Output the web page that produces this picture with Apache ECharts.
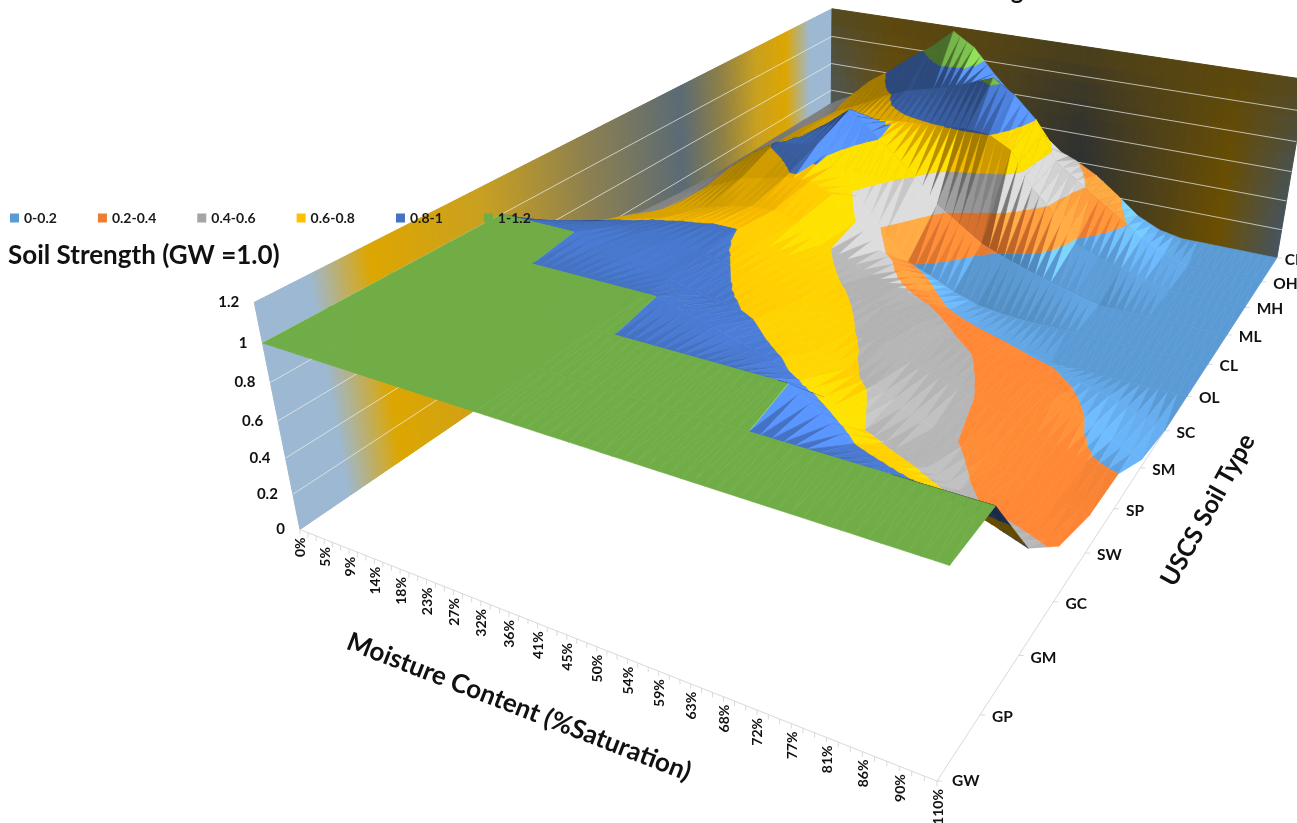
<!DOCTYPE html>
<html><head><meta charset="utf-8"><style>html,body{margin:0;padding:0;background:#fff;overflow:hidden}#c{width:1297px;height:823px}</style>
<script src="https://cdn.jsdelivr.net/npm/echarts@6/dist/echarts.min.js"></script></head><body><div id="c"></div>
<script>
// ---------- data ----------
const moistureLabels=['0%','5%','9%','14%','18%','23%','27%','32%','36%','41%','45%','50%','54%','59%','63%','68%','72%','77%','81%','86%','90%','110%'];
const soilTypes=['GW','GP','GM','GC','SW','SP','SM','SC','OL','CL','ML','MH','OH','CH'];
const strengthTicks=['0','0.2','0.4','0.6','0.8','1','1.2'];
const bandNames=['0-0.2','0.2-0.4','0.4-0.6','0.6-0.8','0.8-1','1-1.2'];
const bandColors=['#5B9BD5','#ED7D31','#A5A5A5','#FFC000','#4472C4','#70AD47'];
const GW=[1,1,1,1,1,1,1,1,1,1,1,1,1,1,1,1,1,1,1,1,1,1];
const GP=[1,1,1,1,1,1,1,1,1,1,1,1,1,1,1,1,1,1,1,1,1,1];
const GM=[1,1,1,1,1,1,1,1,1,1,1,1,1,1,1,.9,.8,.76,.71,.66,.61,.55];
const GC=[1,1,1,1,1,1,1,1,1,.96,.92,.87,.83,.77,.68,.6,.55,.5,.43,.38,.34,.3];
const SW=[1,1,1,1,.96,.93,.89,.86,.83,.81,.78,.73,.68,.62,.58,.51,.44,.39,.33,.28,.24,.21];
const SP=[.79,.84,.87,.88,.88,.86,.83,.81,.78,.74,.7,.65,.6,.56,.51,.46,.41,.36,.31,.26,.22,.2];
const SM=[.65,.69,.73,.77,.79,.8,.8,.76,.71,.66,.61,.57,.53,.49,.44,.4,.36,.32,.27,.2,.12,.05];
const SC=[.55,.6,.64,.68,.72,.75,.76,.72,.62,.56,.5,.46,.41,.37,.33,.29,.24,.2,.16,.12,.06,0];
const OL=[.52,.58,.65,.72,.75,.79,.79,.74,.6,.45,.36,.26,.18,.12,.07,.03,0,0,0,0,0,0];
const CL=[.5,.6,.72,.81,.84,.87,.68,.52,.36,.21,.15,.08,.03,.01,0,0,0,0,0,0,0,0];
const ML=[.5,.58,.66,.74,.84,.96,.84,.72,.6,.44,.34,.24,.18,.13,.08,.04,0,0,0,0,0,0];
const MH=[.5,.58,.65,.7,.74,.76,.78,.79,.8,.81,.8,.72,.5,.36,.18,.12,.08,.03,0,0,0,0];
const OH=[.5,.56,.63,.7,.78,.84,.88,.92,.97,1.03,.94,.8,.54,.44,.33,.23,.13,.05,0,0,0,0];
const CH=[.5,.58,.72,.82,.94,1.04,1.17,1.08,.92,.78,.6,.47,.41,.33,.22,.1,.03,0,0,0,0,0];
const strength=[GW,GP,GM,GC,SW,SP,SM,SC,OL,CL,ML,MH,OH,CH];

// ---------- camera ----------
const frameAnchors=[[0,0,0,297,528],[0,0,1.2,254.5,303],[0,0,1,263,344],[0,0,1,263,344],[1,0,0,935,778],[1,0,1,952,567],[1,0,1,952,567],[1,0,1,952,567],[1,1/13,1,995,507],[1,1/13,1,995,507],[1,1,0,1277,260],[1,1,1.2,1303,75],
 [0,1,0,832,168],[0,1,1.2,832,9],[0,1,1,832,36],[10/21,0,0,566,633],[16/21,0,0,755,707],[1,2/13,0,1018,655],[1,4/13,0,1085,553],[1,7/13,0,1167,432],[1,10/13,0,1228,337]];
function fitCamera(pts){
  const n=11,A=Array.from({length:n},()=>new Array(n+1).fill(0));
  const add=(r,b)=>{for(let a=0;a<n;a++){for(let c=0;c<n;c++)A[a][c]+=r[a]*r[c];A[a][n]+=r[a]*b;}};
  pts.forEach(([u,v,h,x,y])=>{x/=1000;y/=1000;
    add([u,v,h,1,0,0,0,0,-x*u,-x*v,-x*h],x);
    add([0,0,0,0,u,v,h,1,-y*u,-y*v,-y*h],y);});
  for(let c=0;c<n;c++){let p=c;for(let r=c+1;r<n;r++)if(Math.abs(A[r][c])>Math.abs(A[p][c]))p=r;
    [A[c],A[p]]=[A[p],A[c]];
    for(let r=0;r<n;r++)if(r!==c){const f=A[r][c]/A[c][c];for(let k=c;k<=n;k++)A[r][k]-=f*A[c][k];}}
  return A.map((r,i)=>r[n]/r[i]);
}
const P=fitCamera(frameAnchors);
function project(u,v,h){const w=P[8]*u+P[9]*v+P[10]*h+1;
  return [1000*(P[0]*u+P[1]*v+P[2]*h+P[3])/w,1000*(P[4]*u+P[5]*v+P[6]*h+P[7])/w];}

// ---------- surface facets split into height bands ----------
const nI=moistureLabels.length-1,nJ=soilTypes.length-1,SUB=3,BAND=0.2;
const fragments=bandNames.map(()=>[]);
const bandMaxShade=[.38,.38,.34,.18,.35,.3];
function clip(poly,lim,keepAbove){const out=[];
  for(let a=0;a<poly.length;a++){const p=poly[a],q=poly[(a+1)%poly.length];
    const pi=keepAbove?p[2]>=lim:p[2]<=lim,qi=keepAbove?q[2]>=lim:q[2]<=lim;
    if(pi)out.push(p);
    if(pi!==qi){const t=(lim-p[2])/(q[2]-p[2]);out.push([p[0]+t*(q[0]-p[0]),p[1]+t*(q[1]-p[1]),lim]);}}
  return out;}
function shadeOf(sa,sb){
  const fall=Math.max(0,-sa),l=(sa>0?-3.5*sa:2*fall+3*Math.max(0,fall-.06))-(sb>0?.9*sb:0);
  return Math.max(-0.36,l);}
const refSign=(function(){const a=project(0,0,0),b=project(1,0,0),c=project(0,1,0);return Math.sign((b[0]-a[0])*(c[1]-a[1])-(b[1]-a[1])*(c[0]-a[0]));})();
function addTri(tri,shade,rank){
  const pr=tri.map(p=>project(p[0]/nI,p[1]/nJ,p[2]));
  const s=Math.sign((pr[1][0]-pr[0][0])*(pr[2][1]-pr[0][1])-(pr[1][1]-pr[0][1])*(pr[2][0]-pr[0][0]));
  const back=s!==refSign;
  for(let k=0;k<bandNames.length;k++){
    const lo=k*BAND,hi=(k+1)*BAND;
    let poly=clip(tri,lo,true);if(poly.length<3)continue;
    poly=clip(poly,hi,false);if(poly.length<3)continue;
    if(poly.every(p=>Math.abs(p[2]-hi)<1e-9)&&k<bandNames.length-1)continue;
    fragments[k].push({poly,shade:back?-0.62:Math.min(shade,bandMaxShade[k]),rank});
  }
}
let rank=0;
for(let j=nJ-1;j>=0;j--)for(let i=0;i<nI;i++)for(let k=0;k<SUB;k++){
  const x0=i+k/SUB,x1=i+(k+1)/SUB,at=(row,t)=>row[i]+(row[i+1]-row[i])*t;
  const r0=strength[j],r1=strength[j+1];
  const a=[x0,j,at(r0,k/SUB)],b=[x1,j,at(r0,(k+1)/SUB)],c=[x1,j+1,at(r1,(k+1)/SUB)],d=[x0,j+1,at(r1,k/SUB)];
  const dx=x1-x0;
  addTri([a,b,d],shadeOf((b[2]-a[2])/dx,d[2]-a[2]),rank++);
  addTri([b,c,d],shadeOf((c[2]-d[2])/dx,c[2]-b[2]),rank++);
}
function tint(hex,l){const n=parseInt(hex.slice(1),16),f=1+l;
  const ch=[n>>16&255,n>>8&255,n&255].map(v=>Math.round(Math.min(255,v*f)));
  return 'rgb('+ch.join(',')+')';}

// ---------- walls ----------
const leftWallStops=[[0,'#9DB8D2'],[.06,'#9DB8D2'],[.13,'#DDA600'],[.28,'#C9A020'],[.45,'#8C8050'],[.63,'#5A6A75'],[.72,'#8F8045'],[.8,'#C9A020'],[.875,'#DDA600'],[.94,'#9DB8D2'],[1,'#9DB8D2']];
const backWallStops=[[0,'#4A5A66'],[.15,'#6B4E0A'],[.38,'#4B4020'],[.58,'#2C3033'],[.75,'#4F4118'],[.88,'#6B4F00'],[1,'#46545E']];
function ramp(stops,t){for(let a=1;a<stops.length;a++)if(t<=stops[a][0]){
  const [t0,c0]=stops[a-1],[t1,c1]=stops[a],f=(t-t0)/(t1-t0||1),p=parseInt(c0.slice(1),16),q=parseInt(c1.slice(1),16);
  return [16,8,0].map(s=>Math.round((p>>s&255)+((q>>s&255)-(p>>s&255))*f));}
  const q=parseInt(stops[stops.length-1][1].slice(1),16);return [q>>16&255,q>>8&255,q&255];}
const backTopTone=[88,70,16];
const wallData=[];const TOP=1.2,LEFT_STRIPS=240,BACK_STRIPS=120,BACK_LEVELS=10;
for(let s=0;s<LEFT_STRIPS;s++)wallData.push([0,s,0]);
for(let s=0;s<BACK_STRIPS;s++)for(let r=0;r<BACK_LEVELS;r++)wallData.push([1,s,r]);
function lineEl(api,a,b,color,width,z2){const p=api.coord(project(...a)),q=api.coord(project(...b));
  return {type:'line',z2:z2||0,shape:{x1:p[0],y1:p[1],x2:q[0],y2:q[1]},style:{stroke:color,lineWidth:width,fill:null}};}
const labelFont='Lato, "Open Sans", sans-serif',labelColor='#111';
function textEl(x,y,text,size,align,rot,extra){return Object.assign({type:'text',x,y,rotation:rot||0,z2:5,
  style:{text,fill:labelColor,font:'bold '+size+'px '+labelFont,align,verticalAlign:'middle'}},extra||{});}

const series=[];
series.push({type:'custom',name:'walls',coordinateSystem:'cartesian2d',silent:true,animation:false,z:1,progressive:0,
  data:wallData,renderItem(params,api){const [w,s,r]=wallData[params.dataIndex];
    let pts,col;
    if(w===0){const t0=s/LEFT_STRIPS,t1=(s+1)/LEFT_STRIPS;
      pts=[[0,t0,0],[0,t1,0],[0,t1,TOP],[0,t0,TOP]];col=ramp(leftWallStops,(t0+t1)/2);}
    else{const t0=s/BACK_STRIPS,t1=(s+1)/BACK_STRIPS,h0=r/BACK_LEVELS*TOP,h1=(r+1)/BACK_LEVELS*TOP;
      pts=[[t0,1,h0],[t1,1,h0],[t1,1,h1],[t0,1,h1]];col=ramp(backWallStops,(t0+t1)/2);
      const edge=Math.min(1,Math.abs((t0+t1)/2-.5)*4),mix=Math.pow((r+.5)/BACK_LEVELS,2)*.85*edge+Math.pow((r+.5)/BACK_LEVELS,3)*.7*(1-edge);
      col=col.map((v,a)=>Math.round(v+(backTopTone[a]-v)*Math.min(1,mix)));}
    const css='rgb('+col.join(',')+')';
    return {type:'polygon',shape:{points:pts.map(p=>api.coord(project(...p)))},style:{fill:css,stroke:css,lineWidth:1}};}});
series.push({type:'custom',name:'gridlines',coordinateSystem:'cartesian2d',silent:true,animation:false,z:1,progressive:0,
  data:strengthTicks.slice(1,-1).map((_,i)=>[i]),renderItem(params,api){const h=Number(strengthTicks[params.dataIndex+1]);
    return {type:'group',z2:3,children:[lineEl(api,[0,0,h],[0,1,h],'rgba(240,240,235,.7)',1,3),lineEl(api,[0,1,h],[1,1,h],'rgba(240,240,235,.7)',1,3)]};}});
const axisColor='#d9d9d9';
series.push({type:'custom',name:'moistureAxis',coordinateSystem:'cartesian2d',silent:true,animation:false,z:1,progressive:0,
  data:moistureLabels.map((_,i)=>[i]),renderItem(params,api){const i=params.dataIndex,ch=[];
    const p=api.coord(project(i/nI,0,0));
    if(i===0)ch.push(lineEl(api,[0,0,0],[1,0,0],axisColor,1));
    for(let k=0;k<SUB;k++){if(i===nI&&k>0)break;const q=api.coord(project((i+k/SUB)/nI,0,0));
      ch.push({type:'line',shape:{x1:q[0],y1:q[1],x2:q[0],y2:q[1]+5},style:{stroke:axisColor,lineWidth:1}});}
    ch.push(textEl(p[0]+1,p[1]+8,moistureLabels[i],14,'right',Math.PI/2));
    return {type:'group',children:ch};}});
series.push({type:'custom',name:'soilAxis',coordinateSystem:'cartesian2d',silent:true,animation:false,z:1,progressive:0,
  data:soilTypes.map((_,j)=>[j]),renderItem(params,api){const j=params.dataIndex,ch=[];
    const p=api.coord(project(1,j/nJ,0));
    if(j===0)ch.push(lineEl(api,[1,0,0],[1,1,0],axisColor,1));
    ch.push({type:'line',shape:{x1:p[0],y1:p[1],x2:p[0]+5,y2:p[1]},style:{stroke:axisColor,lineWidth:1}});
    ch.push(textEl(p[0]+(j===0?15:j===nJ?8:12),p[1]+(j===0?0:2),soilTypes[j],15.5,'left',0));
    return {type:'group',children:ch};}});
series.push({type:'custom',name:'strengthAxis',coordinateSystem:'cartesian2d',silent:true,animation:false,z:1,progressive:0,
  data:strengthTicks.map((_,i)=>[i]),renderItem(params,api){const i=params.dataIndex;
    const p=api.coord(project(0,0,Number(strengthTicks[i])));
    return textEl(p[0]-15,p[1],strengthTicks[i],15,'right',0);}});
bandNames.forEach((name,k)=>{
  series.push({type:'custom',name,coordinateSystem:'cartesian2d',silent:true,animation:false,z:2,progressive:0,
    itemStyle:{color:bandColors[k]},data:fragments[k].map((_,n)=>[n,k]),
    renderItem(params,api){const f=fragments[k][params.dataIndex];
      const col=tint(bandColors[k],f.shade);
      return {type:'polygon',z2:f.rank,shape:{points:f.poly.map(p=>api.coord(project(p[0]/nI,p[1]/nJ,p[2])))},style:{fill:col,stroke:col,lineWidth:.6}};}});
});
const chart=echarts.init(document.getElementById('c'),null,{renderer:'canvas',width:1297,height:823});
chart.setOption({animation:false,backgroundColor:'#fff',
  grid:{left:0,right:0,top:0,bottom:0},
  xAxis:{type:'value',min:0,max:1297,show:false},
  yAxis:{type:'value',min:0,max:823,inverse:true,show:false},
  legend:{z:20,left:5,top:206,selectedMode:false,icon:'rect',itemWidth:9,itemHeight:9,itemGap:41,data:bandNames,
    textStyle:{color:'#1a1a1a',fontSize:14,fontWeight:'bold',fontFamily:labelFont}},
  graphic:[
    {type:'text',z:20,x:8,y:256,style:{text:'Soil Strength (GW =1.0)',fill:'#111',font:'bold 26px '+labelFont,align:'left',verticalAlign:'middle'}},
    {type:'text',z:20,x:519,y:707,rotation:-0.37,style:{text:'Moisture Content (%Saturation)',fill:'#111',font:'bold 26px '+labelFont,align:'center',verticalAlign:'middle'}},
    {type:'text',z:20,x:1208,y:510,rotation:1.07,style:{text:'USCS Soil Type',fill:'#111',font:'bold 25px '+labelFont,align:'center',verticalAlign:'middle'}},
    {type:'text',z:20,x:1017,y:-9,style:{text:'g',fill:'#111',font:'bold 24px '+labelFont,align:'center',verticalAlign:'middle'}}
  ],
  series});
</script></body></html>
